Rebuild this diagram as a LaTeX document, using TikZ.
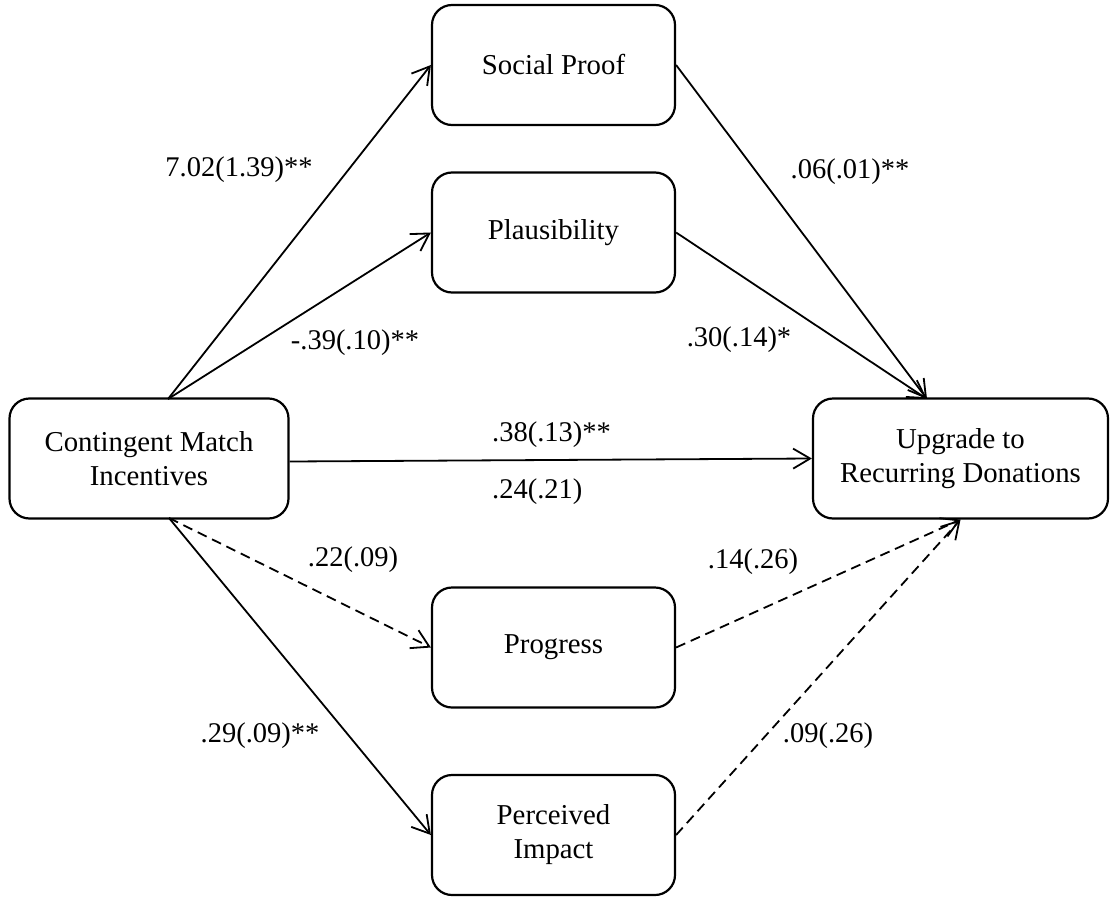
\documentclass[tikz,border=0pt]{standalone}
\usepackage{fontspec}
\setmainfont{Liberation Serif}
\usetikzlibrary{arrows.meta,calc}

\begin{document}
\begin{tikzpicture}[x=1pt, y=-1pt,
    box/.style={draw, line width=2.2pt, rounded corners=20pt, minimum width=243pt, minimum height=120pt, inner sep=0pt, align=center, font=\fontsize{28.8}{34}\selectfont},
    lbl/.style={inner sep=0pt, font=\fontsize{28.5}{34}\selectfont},
    path/.style={line width=1.8pt, -{Straight Barb[length=17pt,width=20pt]}},
    npath/.style={path, dash pattern=on 10pt off 6pt}]
    \useasboundingbox (0,0) rectangle (1111,899);
    \node[box] (sp) at (553.5,65) {Social Proof};
    \node[box] (pl) at (553.5,232.5) {Plausibility};
    \node[box, minimum width=279pt] (cmi) at (149,458.5) {Contingent Match\\Incentives};
    \node[box, minimum width=295pt] (up) at (960.5,458.5) {Upgrade to\\Recurring Donations};
    \node[box] (pr) at (553.5,647.5) {Progress};
    \node[box] (pi) at (553.5,835) {Perceived\\Impact};
    \coordinate (cmitop) at (168,399);
    \coordinate (cmibot) at (169,518);
    \coordinate (uptop) at (927,399);
    \draw[path] (cmitop) -- (sp.west);
    \draw[path] (cmitop) -- (pl.west);
    \draw[path] ($(cmi.east)+(0,3)$) -- (up.west);
    \draw[npath] (cmibot) -- (pr.west);
    \draw[path] (cmibot) -- (pi.west);
    \draw[path] (sp.east) -- (uptop);
    \draw[path] (pl.east) -- (uptop);
    \draw[npath] (pr.east) -- (up.south);
    \draw[npath] (pi.east) -- (up.south);
    \node[lbl] (lsp) at (239,170) {7.02(1.39)**};
    \node[lbl] (lpl) at (355,343) {-.39(.10)**};
    \node[lbl] (lspup) at (850,172) {.06(.01)**};
    \node[lbl] (lplup) at (739,340) {.30(.14)*};
    \node[lbl, anchor=west] (ltot) at (492,435) {.38(.13)**};
    \node[lbl, anchor=west] (ldir) at (492,492) {.24(.21)};
    \node[lbl] (lpr) at (353,560) {.22(.09)};
    \node[lbl] (lprup) at (753,562) {.14(.26)};
    \node[lbl] (lpi) at (260,736) {.29(.09)**};
    \node[lbl] (lpiup) at (828,736) {.09(.26)};
\end{tikzpicture}
\end{document}
